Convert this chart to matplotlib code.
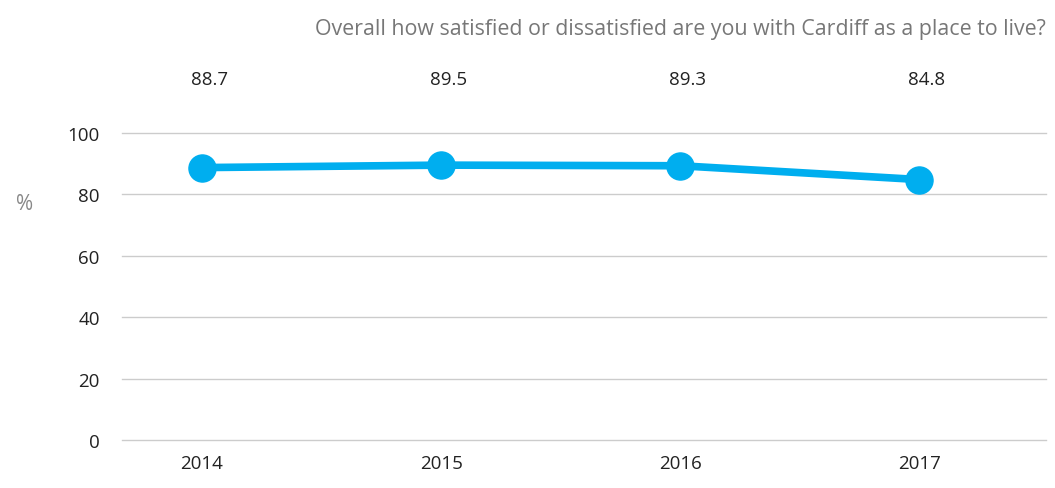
import matplotlib.pyplot as plt
import numpy as np

YEARS = ["2014", "2015", "2016", "2017"]
SATISFIED = [88.7, 89.5, 89.3, 84.8]
Y_TICKS = [0, 20, 40, 60, 80, 100]

TITLE = "Overall how satisfied or dissatisfied are you with Cardiff as a place to live?"
LINE_COLOR = "#00AEEF"

plt.rcParams["font.family"] = ["Open Sans", "DejaVu Sans"]

fig = plt.figure(figsize=(10.55, 4.89), dpi=100)
ax = fig.add_axes([0.1156, 0.0982, 0.8759, 0.628])

x = np.arange(len(YEARS))
ax.plot(x, SATISFIED, color=LINE_COLOR, linewidth=5.5, marker="o",
        markersize=19.5, solid_capstyle="butt", zorder=3)

ax.set_ylim(0, 100)
ax.set_xlim(-0.335, 3.53)
ax.set_yticks(Y_TICKS)
ax.set_xticks(x)
ax.set_xticklabels(YEARS)
ax.tick_params(axis="both", length=0, labelsize=13.5, colors="#222222")
ax.tick_params(axis="y", pad=16)
ax.tick_params(axis="x", pad=10)
ax.grid(axis="y", color="#cccccc", linewidth=1)
ax.set_axisbelow(True)
for gl in ax.get_ygridlines():
    gl.set_clip_on(False)
for s in ax.spines.values():
    s.set_visible(False)

# value labels sit above the plot area
label_y = 1 + (441 - 80 - 307) / 307
for xi, v in zip(x, SATISFIED):
    ax.text(xi + 0.03, label_y, f"{v:.1f}", transform=ax.get_xaxis_transform(),
            ha="center", va="center", fontsize=13.5, color="#222222")

fig.text(0.991, 1 - 30 / 489, TITLE, ha="right", va="center",
         fontsize=15.4, color="#777777")
fig.text(25 / 1055, 1 - 205 / 489, "%", ha="center", va="center",
         fontsize=15, color="#888888")

plt.savefig("out.png", dpi=100)
